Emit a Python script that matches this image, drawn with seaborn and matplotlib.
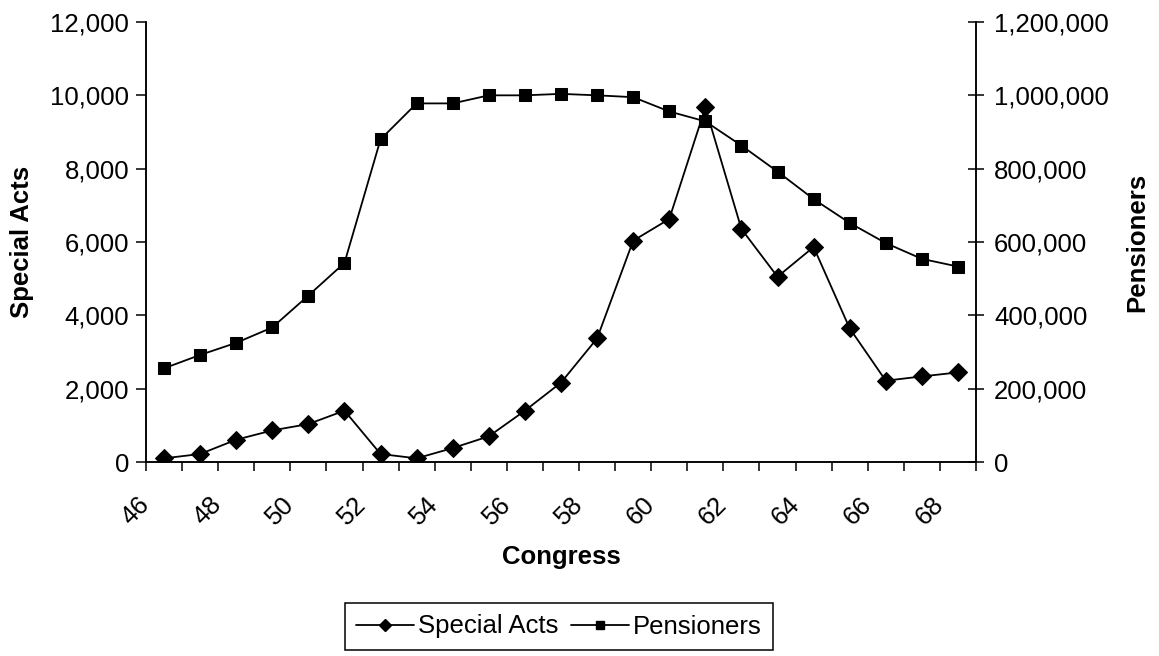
import numpy as np
import pandas as pd
import seaborn as sns
import matplotlib
matplotlib.use("Agg")
import matplotlib.pyplot as plt
from matplotlib.ticker import FuncFormatter, FixedLocator
from matplotlib.lines import Line2D

# Congress numbers and the two series
congress = list(range(46, 69))
special_acts = [100, 218, 608, 862, 1035, 1400, 218, 100, 380, 700, 1400, 2165,
                3370, 6035, 6627, 9670, 6354, 5053, 5863, 3644, 2217, 2334, 2443]
pensioners = [255500, 292000, 325000, 367000, 454000, 543000, 880000, 978000,
              978000, 1000000, 1000000, 1004000, 1000000, 995000, 956000, 929000,
              863000, 792000, 717000, 652000, 597000, 554000, 533000]
x_tick_labels = [str(c) for c in range(46, 69, 2)]

df = pd.DataFrame({
    "pos": np.arange(len(congress)),
    "congress": congress,
    "special_acts": special_acts,
    "pensioners": pensioners,
})

sns.set_style("ticks")
plt.rcParams["font.family"] = ["Liberation Sans", "DejaVu Sans"]
plt.rcParams["text.color"] = "black"
plt.rcParams["axes.labelcolor"] = "black"
FS = 18.5

fig = plt.figure(figsize=(11.59, 6.56), dpi=100)
ax = fig.add_axes([146 / 1159, 1 - 462 / 656, 830 / 1159, 440 / 656])
ax2 = ax.twinx()

sns.lineplot(data=df, x="pos", y="special_acts", ax=ax, color="black",
             marker="D", markersize=9.5, markeredgecolor="black",
             linewidth=1.3, legend=False)
sns.lineplot(data=df, x="pos", y="pensioners", ax=ax2, color="black",
             marker="s", markersize=8, markeredgecolor="black",
             linewidth=1.3, legend=False)

n = len(congress)
ax.set_xlim(-0.5, n - 0.5)
ax.set_ylim(0, 12000)
ax2.set_ylim(0, 1200000)

# category boundaries as ticks, labels on every other boundary
bounds = np.arange(n + 1) - 0.5
ax.xaxis.set_major_locator(FixedLocator(bounds))
labels = []
for i in range(n + 1):
    labels.append(x_tick_labels[i // 2] if (i % 2 == 0 and i // 2 < len(x_tick_labels)) else "")
ax.set_xticklabels(labels)

ax.set_yticks(np.arange(0, 12001, 2000))
ax2.set_yticks(np.arange(0, 1200001, 200000))
comma = FuncFormatter(lambda v, p: f"{int(v):,}")
ax.yaxis.set_major_formatter(comma)
ax2.yaxis.set_major_formatter(comma)

for a in (ax, ax2):
    for s in a.spines.values():
        s.set_linewidth(1.1)
        s.set_color("black")
    a.spines["top"].set_visible(False)

ax.tick_params(axis="x", direction="out", length=6.5, width=1.1, pad=21.5,
               labelsize=FS, colors="black")
ax.tick_params(axis="y", direction="out", length=7.2, width=1.1, pad=5,
               labelsize=FS, colors="black")
ax2.tick_params(axis="y", direction="inout", length=12, width=1.1, pad=7,
                labelsize=FS, colors="black")
plt.setp(ax.get_xticklabels(), rotation=45, ha="right", va="center",
         rotation_mode="anchor")

ax.set_xlabel("Congress", fontsize=FS, fontweight="bold", color="black")
ax.xaxis.set_label_coords(0.5, -0.216)
ax.xaxis.label.set_va("center")
ax.set_ylabel("Special Acts", fontsize=FS, fontweight="bold", color="black")
ax.yaxis.set_label_coords(-0.149, 0.5)
ax.yaxis.label.set_va("center")
ax2.set_ylabel("Pensioners", fontsize=FS, fontweight="bold", rotation=90,
               color="black")
ax2.yaxis.set_label_coords(1.194, 0.5)
ax2.yaxis.label.set_va("center")

handles = [
    Line2D([], [], color="black", lw=1.3, marker="D", markersize=6),
    Line2D([], [], color="black", lw=1.3, marker="s", markersize=5.5),
]
leg = fig.legend(handles, ["Special Acts", "Pensioners"], loc="center",
                 bbox_to_anchor=(559 / 1159, 1 - 626.5 / 656), ncol=2,
                 fontsize=FS, frameon=True, fancybox=False, framealpha=1,
                 edgecolor="black", handlelength=2.25, handletextpad=0.15,
                 columnspacing=0.5, borderpad=0.46)
leg.get_frame().set_linewidth(1.1)
for t in leg.get_texts():
    t.set_color("black")

fig.savefig("out.png", dpi=100)
